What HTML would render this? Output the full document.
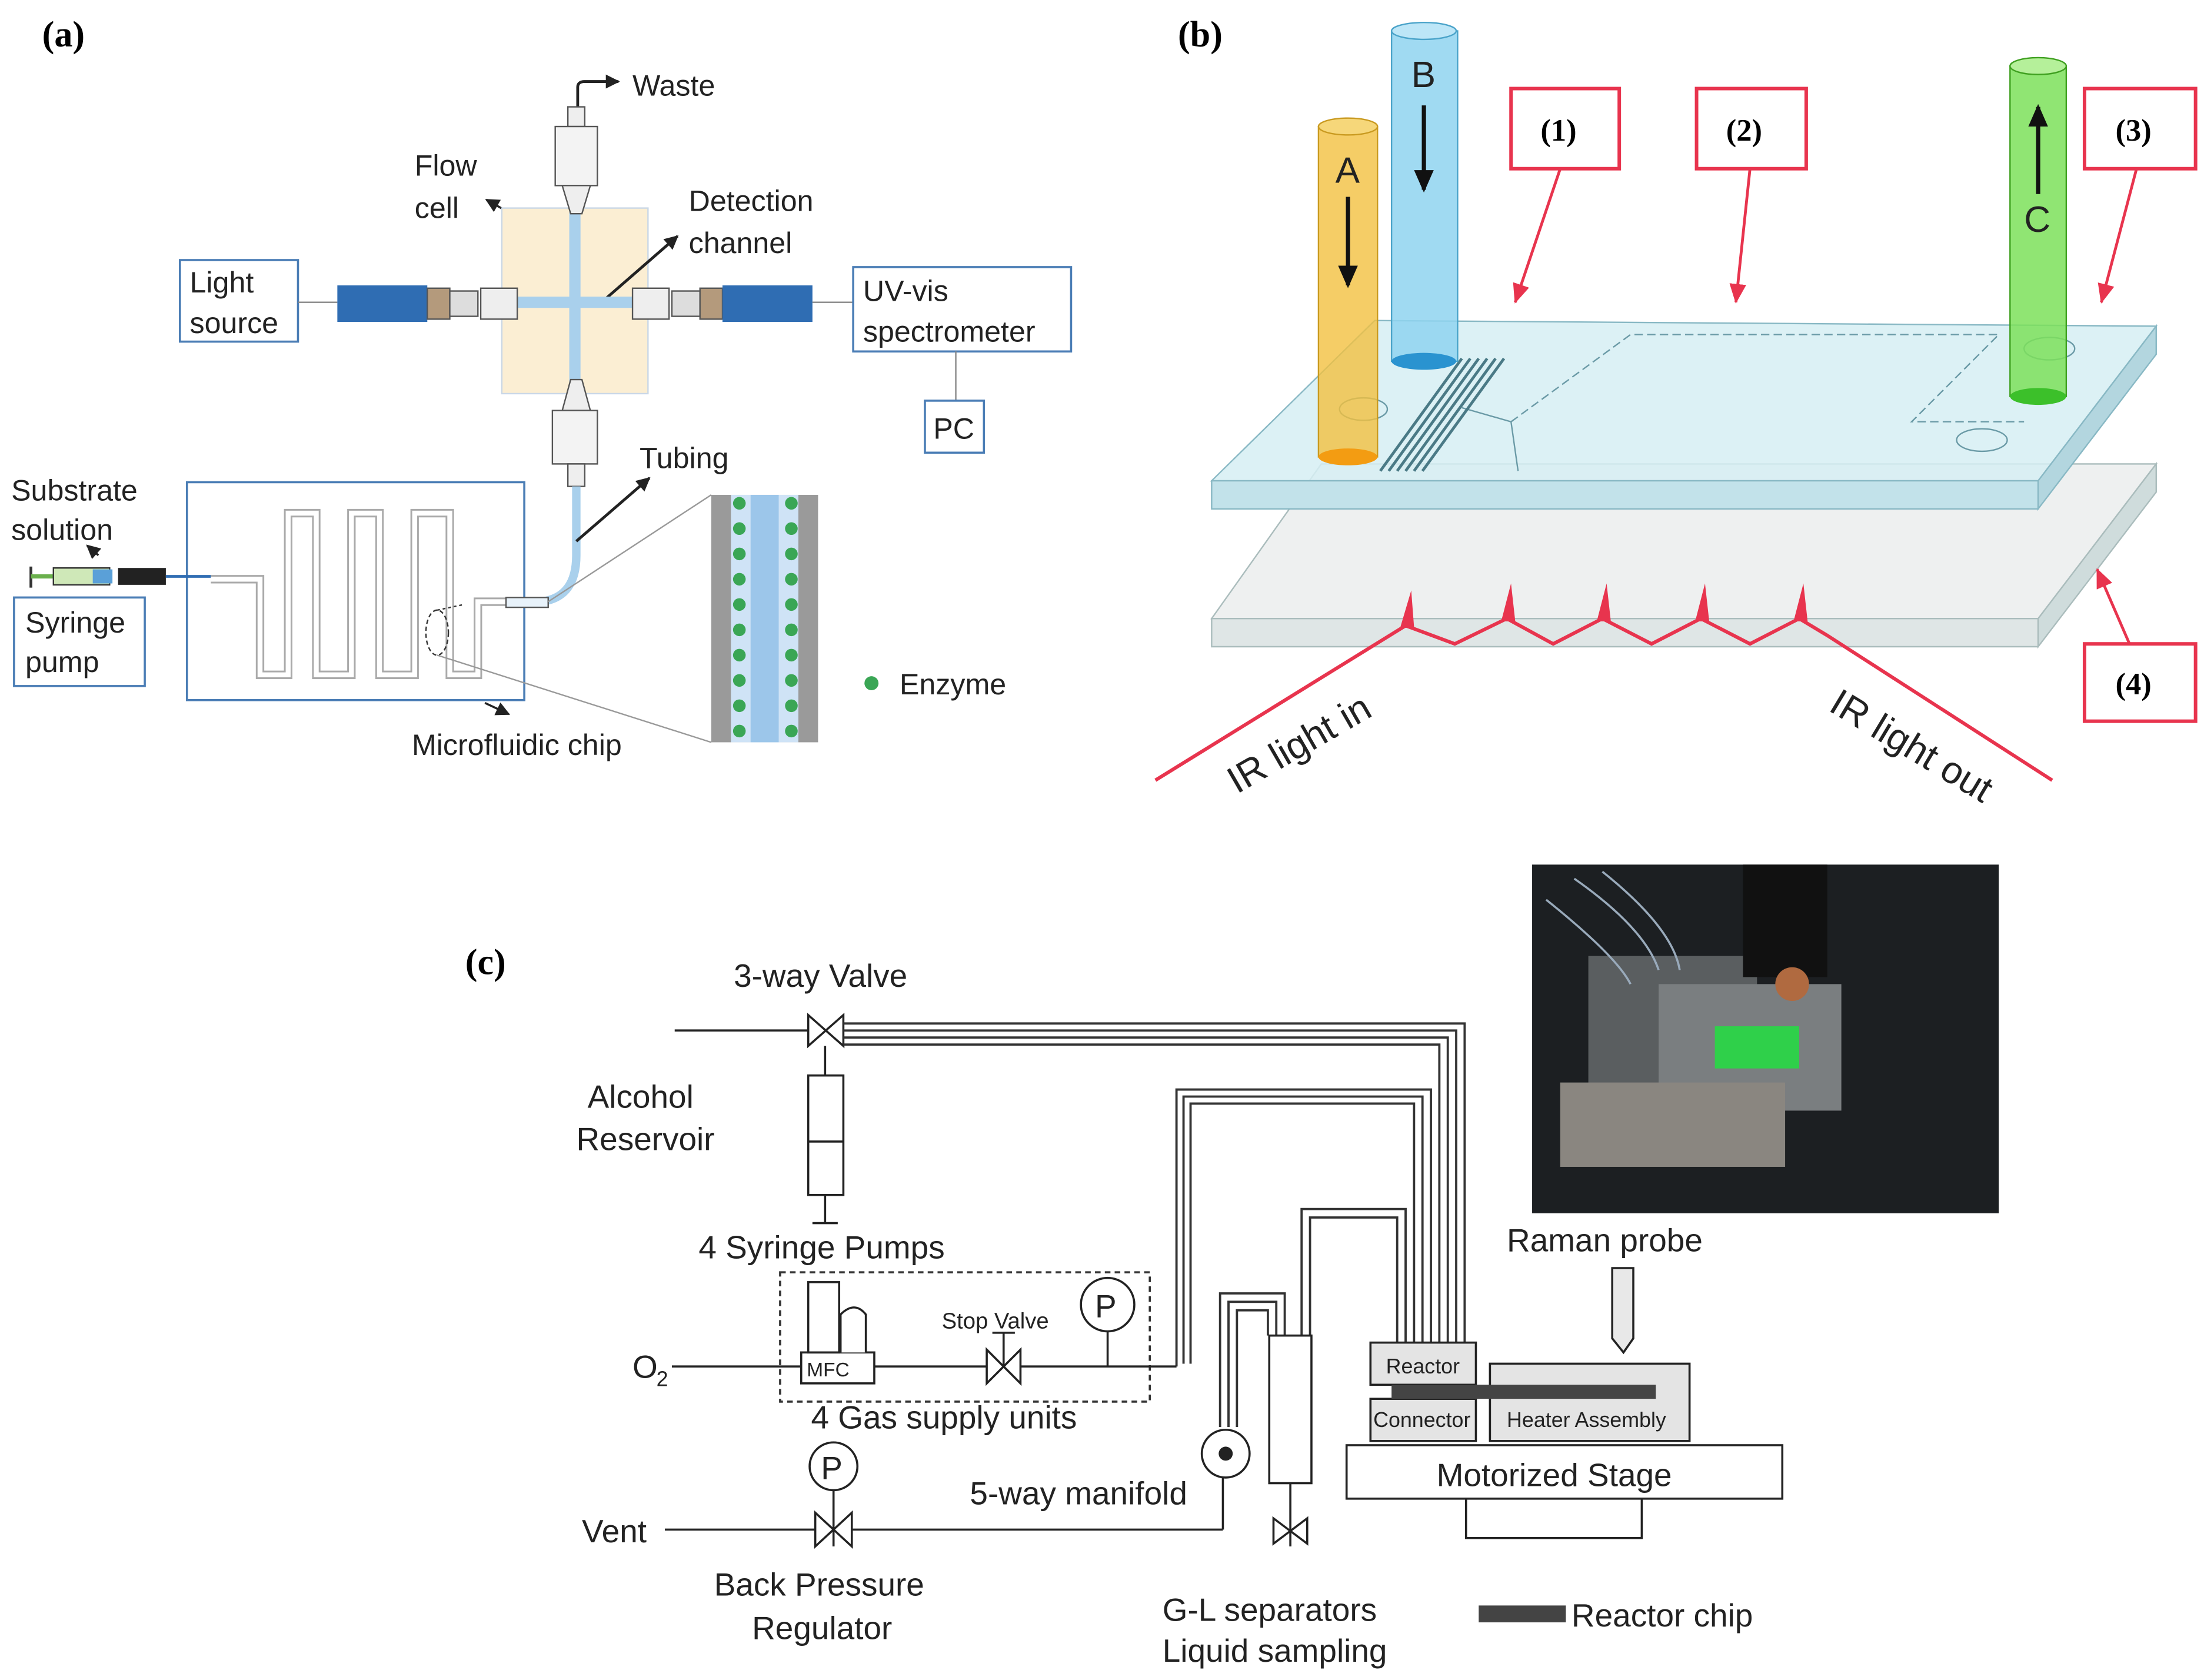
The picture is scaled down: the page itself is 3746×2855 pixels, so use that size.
<!DOCTYPE html>
<html><head><meta charset="utf-8">
<style>html,body{margin:0;padding:0;background:#fff}svg{display:block}
text{font-family:"Liberation Sans",Arial,sans-serif;fill:#222}
.bl{font-family:"Liberation Serif",serif;font-weight:bold;fill:#000}
</style></head><body>
<svg width="3746" height="2855" viewBox="0 0 1568 1195" preserveAspectRatio="none" xmlns="http://www.w3.org/2000/svg">
<defs>
<marker id="ah" markerUnits="userSpaceOnUse" markerWidth="10" markerHeight="10" refX="9" refY="5" orient="auto"><path d="M0,0 L10,5 L0,10 z" fill="#222"/></marker>
<marker id="ahb" markerUnits="userSpaceOnUse" markerWidth="16" markerHeight="14" refX="14" refY="7" orient="auto"><path d="M0,0 L16,7 L0,14 z" fill="#111"/></marker>
<marker id="rh" markerUnits="userSpaceOnUse" markerWidth="14" markerHeight="12" refX="13" refY="6" orient="auto"><path d="M0,0 L14,6 L0,12 z" fill="#e8344e"/></marker>
</defs>
<text x="30" y="33" class="bl" font-size="26">(a)</text>
<text x="838" y="33" class="bl" font-size="26">(b)</text>
<text x="331" y="693" class="bl" font-size="26">(c)</text>

<!-- PANEL A -->
<g font-size="21">
<path d="M411,78 L411,62 Q411,58 416,58 L440,58" stroke="#222" stroke-width="2" fill="none" marker-end="url(#ah)"/>
<text x="450" y="68">Waste</text>
<text x="295" y="125">Flow</text><text x="295" y="155">cell</text>
<line x1="360" y1="150" x2="346" y2="142" stroke="#222" stroke-width="1.5" marker-end="url(#ah)"/>
<text x="490" y="150">Detection</text><text x="490" y="180">channel</text>
<rect x="357" y="148" width="104" height="132" fill="#fbeed3" stroke="#c9d7e6"/>
<line x1="428" y1="215" x2="482" y2="168" stroke="#222" stroke-width="2" marker-end="url(#ah)"/>
<rect x="405" y="150" width="8" height="130" fill="#a9d0ec"/>
<rect x="357" y="211" width="104" height="8" fill="#a9d0ec"/>
<rect x="404" y="76" width="12" height="14" fill="#eee" stroke="#555"/>
<rect x="395" y="90" width="30" height="42" fill="#f3f3f3" stroke="#555"/>
<path d="M400,132 L420,132 L414,152 L406,152z" fill="#eee" stroke="#555"/>
<path d="M406,270 L414,270 L420,292 L400,292z" fill="#eee" stroke="#555"/>
<rect x="393" y="292" width="32" height="38" fill="#f3f3f3" stroke="#555"/>
<rect x="404" y="330" width="12" height="16" fill="#eee" stroke="#555"/>
<rect x="128" y="185" width="84" height="58" fill="#fff" stroke="#4a7db5" stroke-width="1.5"/>
<text x="135" y="208">Light</text><text x="135" y="237">source</text>
<line x1="212" y1="215" x2="240" y2="215" stroke="#888"/>
<rect x="240" y="203" width="64" height="26" fill="#2f6db3"/>
<rect x="304" y="205" width="16" height="22" fill="#b49a7c" stroke="#555"/>
<rect x="320" y="207" width="20" height="18" fill="#ddd" stroke="#555"/>
<rect x="342" y="205" width="26" height="22" fill="#eee" stroke="#555"/>
<rect x="450" y="205" width="26" height="22" fill="#eee" stroke="#555"/>
<rect x="478" y="207" width="20" height="18" fill="#ddd" stroke="#555"/>
<rect x="498" y="205" width="16" height="22" fill="#b49a7c" stroke="#555"/>
<rect x="514" y="203" width="64" height="26" fill="#2f6db3"/>
<line x1="578" y1="215" x2="607" y2="215" stroke="#888"/>
<rect x="607" y="190" width="155" height="60" fill="#fff" stroke="#4a7db5" stroke-width="1.5"/>
<text x="614" y="214">UV-vis</text><text x="614" y="243">spectrometer</text>
<line x1="680" y1="250" x2="680" y2="285" stroke="#888"/>
<rect x="658" y="285" width="42" height="37" fill="#fff" stroke="#4a7db5" stroke-width="1.5"/>
<text x="664" y="312">PC</text>
<path d="M410,346 L410,395 Q410,425 385,428" stroke="#a9d0ec" stroke-width="6" fill="none"/>
<text x="455" y="333">Tubing</text>
<line x1="410" y1="385" x2="462" y2="340" stroke="#222" stroke-width="2" marker-end="url(#ah)"/>
<rect x="133" y="343" width="240" height="155" fill="#fff" stroke="#4a7db5" stroke-width="1.5"/>
<path d="M150,412 L185,412 L185,480 L205,480 L205,365 L225,365 L225,480 L250,480 L250,365 L270,365 L270,480 L295,480 L295,365 L320,365 L320,480 L340,480 L340,428 L385,428" stroke="#aaa" stroke-width="6" fill="none"/>
<path d="M150,412 L185,412 L185,480 L205,480 L205,365 L225,365 L225,480 L250,480 L250,365 L270,365 L270,480 L295,480 L295,365 L320,365 L320,480 L340,480 L340,428 L385,428" stroke="#fff" stroke-width="3.5" fill="none"/>
<rect x="360" y="425" width="30" height="7" fill="#e8f2fa" stroke="#555"/>
<ellipse cx="311" cy="450" rx="8" ry="16" fill="none" stroke="#333" stroke-dasharray="3,2"/>
<line x1="390" y1="428" x2="506" y2="352" stroke="#999"/><line x1="311" y1="466" x2="506" y2="528" stroke="#999"/>
<line x1="311" y1="434" x2="330" y2="430" stroke="#333" stroke-dasharray="2,2"/>
<text x="293" y="537">Microfluidic chip</text>
<line x1="345" y1="500" x2="362" y2="508" stroke="#222" stroke-width="1.5" marker-end="url(#ah)"/>
<text x="8" y="356">Substrate</text><text x="8" y="384">solution</text>
<line x1="70" y1="395" x2="62" y2="388" stroke="#222" stroke-width="1.5" marker-end="url(#ah)"/>
<line x1="22" y1="403" x2="22" y2="418" stroke="#333" stroke-width="2"/>
<line x1="22" y1="410" x2="38" y2="410" stroke="#6ab04c" stroke-width="3"/>
<rect x="38" y="404" width="40" height="12" fill="#cfe8b8" stroke="#333"/>
<rect x="66" y="405" width="14" height="10" fill="#5aa0d8"/>
<rect x="84" y="404" width="34" height="12" fill="#222"/>
<line x1="118" y1="410" x2="150" y2="410" stroke="#2f6db3" stroke-width="2"/>
<rect x="10" y="425" width="93" height="63" fill="#fff" stroke="#4a7db5" stroke-width="1.5"/>
<text x="18" y="450">Syringe</text><text x="18" y="478">pump</text>
<rect x="506" y="352" width="76" height="176" fill="#9a9a9a"/>
<rect x="520" y="352" width="48" height="176" fill="#cfe3f6"/>
<rect x="534" y="352" width="20" height="176" fill="#9cc6ea"/>
<g fill="#3aa655">
<circle cx="526" cy="358" r="4.5"/><circle cx="526" cy="376" r="4.5"/><circle cx="526" cy="394" r="4.5"/><circle cx="526" cy="412" r="4.5"/><circle cx="526" cy="430" r="4.5"/><circle cx="526" cy="448" r="4.5"/><circle cx="526" cy="466" r="4.5"/><circle cx="526" cy="484" r="4.5"/><circle cx="526" cy="502" r="4.5"/><circle cx="526" cy="520" r="4.5"/>
<circle cx="563" cy="358" r="4.5"/><circle cx="563" cy="376" r="4.5"/><circle cx="563" cy="394" r="4.5"/><circle cx="563" cy="412" r="4.5"/><circle cx="563" cy="430" r="4.5"/><circle cx="563" cy="448" r="4.5"/><circle cx="563" cy="466" r="4.5"/><circle cx="563" cy="484" r="4.5"/><circle cx="563" cy="502" r="4.5"/><circle cx="563" cy="520" r="4.5"/>
<circle cx="620" cy="486" r="5"/></g>
<text x="640" y="494">Enzyme</text>
</g>

<!-- PANEL B -->
<g>
<path d="M862,440 L940,330 L1534,330 L1450,440z" fill="#eef0f0" stroke="#aabcbc"/>
<path d="M862,440 L1450,440 L1450,460 L862,460z" fill="#dfe6e6" stroke="#aabcbc"/>
<path d="M1450,440 L1534,330 L1534,350 L1450,460z" fill="#cfdcdc" stroke="#aabcbc"/>
<path d="M862,342 L978,228 L1534,232 L1450,342z" fill="#d6eef3" fill-opacity="0.85" stroke="#88b8c4"/>
<path d="M862,342 L1450,342 L1450,362 L862,362z" fill="#c2e2ea" stroke="#88b8c4"/>
<path d="M1450,342 L1534,232 L1534,252 L1450,362z" fill="#b3d6df" stroke="#88b8c4"/>
<path d="M1075,300 L1160,238 L1422,238 L1360,300 L1440,300" fill="none" stroke="#6a9aa6" stroke-dasharray="6,3"/>
<path d="M1080,335 L1075,300 M1040,290 L1075,300" fill="none" stroke="#6a9aa6"/>
<g stroke="#4a7a86" stroke-width="2">
<line x1="982" y1="335" x2="1040" y2="255"/><line x1="988" y1="335" x2="1046" y2="255"/><line x1="994" y1="335" x2="1052" y2="255"/><line x1="1000" y1="335" x2="1058" y2="255"/><line x1="1006" y1="335" x2="1064" y2="255"/><line x1="1012" y1="335" x2="1070" y2="255"/></g>
<ellipse cx="970" cy="291" rx="17" ry="8" fill="none" stroke="#6a9aa6"/>
<ellipse cx="1410" cy="313" rx="18" ry="8" fill="none" stroke="#6a9aa6"/>
<ellipse cx="1458" cy="248" rx="18" ry="8" fill="none" stroke="#6a9aa6"/>
<rect x="938" y="90" width="42" height="235" fill="#f2c040" fill-opacity="0.8" stroke="#c99a20"/>
<ellipse cx="959" cy="90" rx="21" ry="6" fill="#f6d77a" stroke="#c99a20"/>
<ellipse cx="959" cy="325" rx="21" ry="6" fill="#f39c12"/>
<text x="950" y="130" font-size="26" fill="#222">A</text>
<line x1="959" y1="140" x2="959" y2="203" stroke="#111" stroke-width="3" marker-end="url(#ahb)"/>
<rect x="990" y="22" width="47" height="235" fill="#8fd3f0" fill-opacity="0.85" stroke="#4aa3c9"/>
<ellipse cx="1013" cy="22" rx="23" ry="6" fill="#bde6f7" stroke="#4aa3c9"/>
<ellipse cx="1013" cy="257" rx="23" ry="6" fill="#2a93d0"/>
<text x="1004" y="62" font-size="26" fill="#222">B</text>
<line x1="1013" y1="75" x2="1013" y2="135" stroke="#111" stroke-width="3" marker-end="url(#ahb)"/>
<rect x="1430" y="47" width="40" height="235" fill="#7de05a" fill-opacity="0.85" stroke="#3fa020"/>
<ellipse cx="1450" cy="47" rx="20" ry="6" fill="#b5f09a" stroke="#3fa020"/>
<ellipse cx="1450" cy="282" rx="20" ry="6" fill="#3cc02a"/>
<text x="1440" y="165" font-size="26" fill="#222">C</text>
<line x1="1450" y1="138" x2="1450" y2="76" stroke="#111" stroke-width="3" marker-end="url(#ahb)"/>
<g fill="#fff" stroke="#e8344e" stroke-width="2.5">
<rect x="1075" y="63" width="77" height="57"/><rect x="1207" y="63" width="78" height="57"/><rect x="1483" y="63" width="79" height="57"/><rect x="1483" y="458" width="79" height="55"/></g>
<g font-size="22"><text x="1096" y="100" class="bl">(1)</text><text x="1228" y="100" class="bl">(2)</text><text x="1505" y="100" class="bl">(3)</text><text x="1505" y="494" class="bl">(4)</text></g>
<g stroke="#e8344e" stroke-width="2" marker-end="url(#rh)">
<line x1="1110" y1="120" x2="1078" y2="215"/><line x1="1245" y1="120" x2="1235" y2="215"/><line x1="1520" y1="120" x2="1495" y2="215"/><line x1="1515" y1="458" x2="1492" y2="405"/></g>
<path d="M822,555 L1000,445 L1035,458 L1072,440 L1105,458 L1140,440 L1175,458 L1210,440 L1245,458 L1280,440 L1300,452 L1460,555" fill="none" stroke="#e8344e" stroke-width="2.5"/>
<g fill="#e8344e"><path d="M996,447 L1004,420 L1006,446z"/><path d="M1068,442 L1075,415 L1078,442z"/><path d="M1136,442 L1143,415 L1146,442z"/><path d="M1206,442 L1213,415 L1216,442z"/><path d="M1276,442 L1283,415 L1286,442z"/></g>
<text transform="translate(880,565) rotate(-30)" font-size="27" fill="#222">IR light in</text>
<text transform="translate(1300,505) rotate(31)" font-size="27" fill="#222">IR light out</text>
</g>

<!-- PANEL C -->
<g font-size="23" stroke-width="1.5">
<rect x="1090" y="615" width="332" height="248" fill="#1c1f22"/>
<rect x="1130" y="680" width="120" height="100" fill="#5a5e60"/>
<rect x="1180" y="700" width="130" height="90" fill="#7a7e80"/>
<rect x="1220" y="730" width="60" height="30" fill="#2fd04a"/>
<rect x="1240" y="615" width="60" height="80" fill="#111"/>
<circle cx="1275" cy="700" r="12" fill="#b06a40"/>
<rect x="1110" y="770" width="160" height="60" fill="#8a8680"/>
<path d="M1100,640 Q1150,680 1160,700 M1120,625 Q1170,660 1180,690 M1140,620 Q1190,660 1195,690" stroke="#9ab" fill="none"/>
<text x="522" y="702">3-way Valve</text>
<line x1="480" y1="733" x2="575" y2="733" stroke="#222"/>
<path d="M575,722 L600,744 L600,722 L575,744z" fill="#fff" stroke="#222"/>
<line x1="587" y1="744" x2="587" y2="765" stroke="#222"/>
<rect x="575" y="765" width="25" height="85" fill="#fff" stroke="#222"/>
<line x1="575" y1="812" x2="600" y2="812" stroke="#222"/>
<line x1="587" y1="850" x2="587" y2="870" stroke="#222"/><line x1="578" y1="870" x2="596" y2="870" stroke="#222"/>
<text x="418" y="788">Alcohol</text><text x="410" y="818">Reservoir</text>
<text x="497" y="895">4 Syringe Pumps</text>
<g fill="none" stroke="#333" stroke-width="1.6">
<path d="M600,728 L1042,728 L1042,955"/><path d="M600,733 L1036,733 L1036,955"/><path d="M600,738 L1030,738 L1030,955"/><path d="M600,743 L1024,743 L1024,955"/>
<path d="M837,972 L837,775 L1018,775 L1018,955"/><path d="M842,970 L842,780 L1012,780 L1012,955"/><path d="M847,970 L847,785 L1006,785 L1006,955"/>
<path d="M926,950 L926,860 L1000,860 L1000,955"/><path d="M932,950 L932,866 L994,866 L994,955"/>
<path d="M868,1015 L868,920 L914,920 L914,950"/><path d="M874,1015 L874,926 L908,926 L908,950"/><path d="M880,1015 L880,932 L902,932 L902,950"/>
</g>
<rect x="555" y="905" width="263" height="92" fill="none" stroke="#333" stroke-dasharray="4,3"/>
<text x="450" y="980">O</text><text x="467" y="986" font-size="15">2</text>
<line x1="478" y1="972" x2="570" y2="972" stroke="#222"/>
<rect x="570" y="962" width="52" height="22" fill="#fff" stroke="#222"/>
<text x="574" y="979" font-size="14" fill="#555">MFC</text>
<rect x="575" y="912" width="22" height="50" fill="#fff" stroke="#222"/>
<path d="M598,962 L598,935 Q608,925 616,935 L616,962" fill="#fff" stroke="#222"/>
<line x1="622" y1="972" x2="837" y2="972" stroke="#222"/>
<path d="M702,960 L726,984 L726,960 L702,984z" fill="#fff" stroke="#222"/>
<line x1="714" y1="948" x2="714" y2="972" stroke="#222"/><line x1="706" y1="948" x2="722" y2="948" stroke="#222"/>
<text x="670" y="945" font-size="16">Stop Valve</text>
<circle cx="788" cy="928" r="19" fill="#fff" stroke="#222"/><text x="779" y="937">P</text>
<line x1="788" y1="947" x2="788" y2="972" stroke="#222"/>
<text x="577" y="1016">4 Gas supply units</text>
<text x="414" y="1097">Vent</text>
<line x1="473" y1="1088" x2="580" y2="1088" stroke="#222"/>
<path d="M580,1076 L606,1100 L606,1076 L580,1100z" fill="#fff" stroke="#222"/>
<line x1="593" y1="1060" x2="593" y2="1100" stroke="#222"/>
<circle cx="593" cy="1043" r="17" fill="#fff" stroke="#222"/><text x="584" y="1052">P</text>
<line x1="606" y1="1088" x2="870" y2="1088" stroke="#222"/><line x1="870" y1="1088" x2="870" y2="1050" stroke="#222"/>
<circle cx="872" cy="1034" r="17" fill="#fff" stroke="#222"/><circle cx="872" cy="1034" r="5" fill="#222"/>
<text x="690" y="1070">5-way manifold</text>
<text x="508" y="1135">Back Pressure</text><text x="535" y="1166">Regulator</text>
<rect x="903" y="950" width="30" height="105" fill="#fff" stroke="#222"/>
<line x1="918" y1="1055" x2="918" y2="1100" stroke="#222"/>
<path d="M906,1080 L930,1098 L930,1080 L906,1098z" fill="#fff" stroke="#222"/>
<text x="827" y="1153">G-L separators</text><text x="827" y="1182">Liquid sampling</text>
<rect x="975" y="955" width="75" height="30" fill="#e4e4e4" stroke="#222"/><text x="986" y="977" font-size="15" fill="#555">Reactor</text>
<rect x="975" y="995" width="75" height="30" fill="#e4e4e4" stroke="#222"/><text x="977" y="1015" font-size="15" fill="#555">Connector</text>
<rect x="1060" y="970" width="142" height="55" fill="#e4e4e4" stroke="#222"/>
<rect x="990" y="985" width="188" height="10" fill="#444"/>
<text x="1072" y="1015" font-size="15" fill="#555">Heater Assembly</text>
<rect x="958" y="1028" width="310" height="38" fill="#fff" stroke="#222"/>
<text x="1022" y="1057">Motorized Stage</text>
<rect x="1043" y="1066" width="125" height="28" fill="#fff" stroke="#222"/>
<path d="M1147,902 L1162,902 L1162,952 L1155,962 L1147,952z" fill="#e8e8e8" stroke="#222"/>
<text x="1072" y="890">Raman probe</text>
<rect x="1052" y="1142" width="62" height="12" fill="#444"/>
<text x="1118" y="1157">Reactor chip</text>
</g>
</svg>
</body></html>
